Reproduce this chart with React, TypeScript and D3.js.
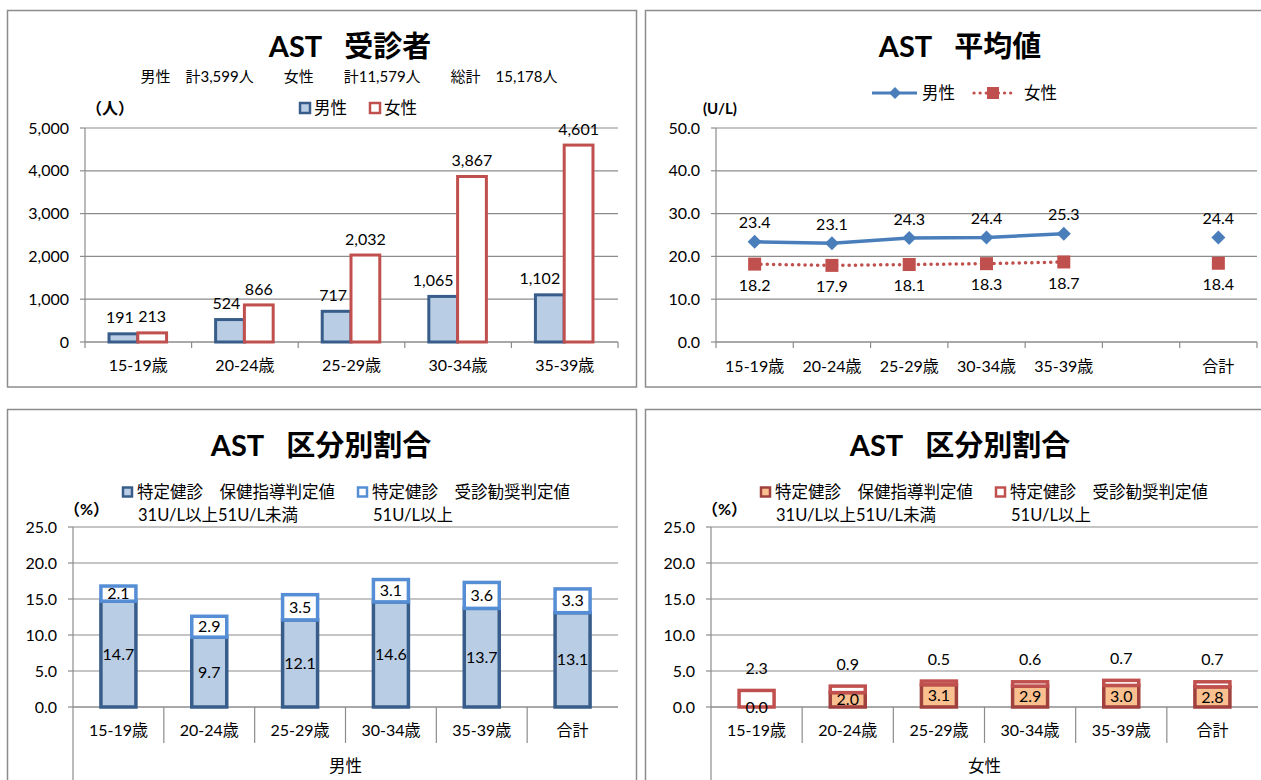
import React from 'react';
import * as d3 from 'd3';

const ageGroups = ['15-19歳', '20-24歳', '25-29歳', '30-34歳', '35-39歳'];
const maleCounts = [191, 524, 717, 1065, 1102];
const femaleCounts = [213, 866, 2032, 3867, 4601];
const countTicks = [0, 1000, 2000, 3000, 4000, 5000];

const avgCategories = ['15-19歳', '20-24歳', '25-29歳', '30-34歳', '35-39歳', '', '合計'];
const maleAvg: (number | null)[] = [23.4, 23.1, 24.3, 24.4, 25.3, null, 24.4];
const femaleAvg: (number | null)[] = [18.2, 17.9, 18.1, 18.3, 18.7, null, 18.4];
const avgTicks = [0, 10, 20, 30, 40, 50];

const ratioCategories = ['15-19歳', '20-24歳', '25-29歳', '30-34歳', '35-39歳', '合計'];
const maleGuidance = [14.7, 9.7, 12.1, 14.6, 13.7, 13.1];
const maleReferral = [2.1, 2.9, 3.5, 3.1, 3.6, 3.3];
const femaleGuidance = [0.0, 2.0, 3.1, 2.9, 3.0, 2.8];
const femaleReferral = [2.3, 0.9, 0.5, 0.6, 0.7, 0.7];
const ratioTicks = [0, 5, 10, 15, 20, 25];

const FONT = "Lato, 'Noto Sans CJK JP', sans-serif";
const GRID = '#8c8c8c';
const FS = 16;

const fmtInt = d3.format(',');
const fmt1 = d3.format('.1f');

function Frame({ x, y, w, h }: { x: number; y: number; w: number; h: number }) {
  return <rect x={x} y={y} width={w} height={h} fill="#fff" stroke="#8c8c8c" strokeWidth={1.5} />;
}

function Title({ cx, y, latin, cjk }: { cx: number; y: number; latin: string; cjk: string }) {
  return (
    <text x={cx} y={y} textAnchor="middle" fontSize={29} fontWeight="bold" fontFamily={FONT} fill="#000">
      <tspan>{latin}</tspan>
      <tspan dx={22}>{cjk}</tspan>
    </text>
  );
}

function YAxis({ scale, ticks, x0, x1, fmt }: { scale: d3.ScaleLinear<number, number>; ticks: number[]; x0: number; x1: number; fmt: (v: number) => string }) {
  return (
    <g>
      {ticks.map((t) => (
        <g key={t}>
          {t > 0 && <line x1={x0} x2={x1} y1={scale(t)} y2={scale(t)} stroke={GRID} strokeWidth={1.2} />}
          <line x1={x0 - 5} x2={x0} y1={scale(t)} y2={scale(t)} stroke={GRID} strokeWidth={1.2} />
          <text x={x0 - 16} y={scale(t)} dy="0.35em" textAnchor="end" fontSize={FS} fontFamily={FONT} fill="#000">
            {fmt(t)}
          </text>
        </g>
      ))}
      <line x1={x0} x2={x0} y1={scale(ticks[ticks.length - 1])} y2={scale(0)} stroke={GRID} strokeWidth={1.2} />
      <line x1={x0} x2={x1} y1={scale(0)} y2={scale(0)} stroke={GRID} strokeWidth={1.5} />
    </g>
  );
}

function CountPanel() {
  const x = d3.scaleBand<string>().domain(ageGroups).range([85, 618]);
  const y = d3.scaleLinear().domain([0, 5000]).range([342, 128]);
  const bw = x.bandwidth();
  const barW = bw * 0.27;
  const series = [
    { values: maleCounts, fill: '#B9CDE5', stroke: '#385D8A', side: -1 },
    { values: femaleCounts, fill: '#ffffff', stroke: '#C0504D', side: 0 },
  ];
  return (
    <g>
      <Frame x={7.5} y={10.5} w={629} h={376.5} />
      <Title cx={350} y={57} latin="AST" cjk="受診者" />
      <text x={349} y={77} dy="0.35em" textAnchor="middle" fontSize={15} fontFamily={FONT}>
        男性　計3,599人　　女性　　計11,579人　　総計　15,178人
      </text>
      <text x={86} y={108} dy="0.35em" fontSize={16} fontWeight="bold" fontFamily={FONT}>（人）</text>
      <rect x={300} y={103} width={10} height={10} fill="#B9CDE5" stroke="#385D8A" strokeWidth={2.5} />
      <text x={314} y={108} dy="0.35em" fontSize={16.5} fontFamily={FONT}>男性</text>
      <rect x={370} y={103} width={10} height={10} fill="#fff" stroke="#C0504D" strokeWidth={2.5} />
      <text x={384} y={108} dy="0.35em" fontSize={16.5} fontFamily={FONT}>女性</text>
      <YAxis scale={y} ticks={countTicks} x0={85} x1={618} fmt={fmtInt} />
      {ageGroups.map((g) => (
        <line key={g} x1={x(g) as number} x2={x(g) as number} y1={342} y2={348} stroke={GRID} strokeWidth={1.2} />
      ))}
      <line x1={618} x2={618} y1={342} y2={348} stroke={GRID} strokeWidth={1.2} />
      {series.map((s, si) =>
        ageGroups.map((g, i) => {
          const c = (x(g) as number) + bw / 2 - 0.5;
          const bx = s.side < 0 ? c - barW : c;
          const v = s.values[i];
          return (
            <g key={`${si}-${g}`}>
              <rect x={bx} y={y(v)} width={barW} height={y(0) - y(v)} fill={s.fill} stroke={s.stroke} strokeWidth={3} />
            </g>
          );
        })
      )}
      {series.map((s, si) =>
        ageGroups.map((g, i) => {
          const c = (x(g) as number) + bw / 2 - 0.5;
          const v = s.values[i];
          const blue = s.side < 0;
          return (
            <text
              key={`l${si}-${g}`}
              x={blue ? c - 4 : c + barW / 2}
              y={y(v) - 16}
              dy="0.35em"
              textAnchor={blue ? 'end' : 'middle'}
              fontSize={FS}
              fontFamily={FONT}
            >
              {fmtInt(v)}
            </text>
          );
        })
      )}
      {ageGroups.map((g) => (
        <text key={g} x={(x(g) as number) + bw / 2} y={365} dy="0.35em" textAnchor="middle" fontSize={FS} fontFamily={FONT}>
          {g}
        </text>
      ))}
    </g>
  );
}

function AvgPanel() {
  const idx = d3.range(avgCategories.length);
  const x = d3.scaleBand<number>().domain(idx).range([716, 1257]);
  const y = d3.scaleLinear().domain([0, 50]).range([342, 128]);
  const bw = x.bandwidth();
  const cx = (i: number) => (x(i) as number) + bw / 2;
  const line = d3
    .line<number | null>()
    .defined((d) => d !== null)
    .x((_, i) => cx(i))
    .y((d) => y(d as number));
  const diamond = (px: number, py: number, r: number) => `M${px},${py - r}L${px + r},${py}L${px},${py + r}L${px - r},${py}Z`;
  return (
    <g>
      <Frame x={645.5} y={10.5} w={630} h={376.5} />
      <Title cx={960} y={57} latin="AST" cjk="平均値" />
      <line x1={872} x2={917} y1={93} y2={93} stroke="#4A7EBB" strokeWidth={3.2} />
      <path d={diamond(895, 93, 6)} fill="#4A7EBB" />
      <text x={922} y={93} dy="0.35em" fontSize={16.5} fontFamily={FONT}>男性</text>
      <line x1={974} x2={1012} y1={93} y2={93} stroke="#C0504D" strokeWidth={3.2} strokeDasharray="0.1 6" strokeLinecap="round" />
      <rect x={987} y={87} width={12} height={12} fill="#C0504D" />
      <text x={1024} y={93} dy="0.35em" fontSize={16.5} fontFamily={FONT}>女性</text>
      <text x={703} y={109} dy="0.35em" fontSize={15} fontWeight="bold" fontFamily={FONT}>(U/L)</text>
      <YAxis scale={y} ticks={avgTicks} x0={716} x1={1257} fmt={fmt1} />
      {idx.map((i) => (
        <line key={i} x1={x(i) as number} x2={x(i) as number} y1={342} y2={348} stroke={GRID} strokeWidth={1.2} />
      ))}
      <line x1={1257} x2={1257} y1={342} y2={348} stroke={GRID} strokeWidth={1.2} />
      <path d={line(maleAvg) || ''} fill="none" stroke="#4A7EBB" strokeWidth={3.5} />
      <path d={line(femaleAvg) || ''} fill="none" stroke="#C0504D" strokeWidth={3.5} strokeDasharray="0.1 6.2" strokeLinecap="round" />
      {maleAvg.map((v, i) =>
        v === null ? null : (
          <g key={`m${i}`}>
            <path d={diamond(cx(i), y(v), 7)} fill="#4A7EBB" />
            <text x={cx(i)} y={y(v) - 19} dy="0.35em" textAnchor="middle" fontSize={FS} fontFamily={FONT}>{fmt1(v)}</text>
          </g>
        )
      )}
      {femaleAvg.map((v, i) =>
        v === null ? null : (
          <g key={`f${i}`}>
            <rect x={cx(i) - 6.5} y={y(v) - 6.5} width={13} height={13} fill="#C0504D" />
            <text x={cx(i)} y={y(v) + 21} dy="0.35em" textAnchor="middle" fontSize={FS} fontFamily={FONT}>{fmt1(v)}</text>
          </g>
        )
      )}
      {avgCategories.map((c, i) => (
        <text key={i} x={cx(i)} y={366} dy="0.35em" textAnchor="middle" fontSize={FS} fontFamily={FONT}>{c}</text>
      ))}
    </g>
  );
}

function RatioPanel({
  left, right, frameX, frameW, titleX, legendX, lower, upper, lowerFill, lowerStroke, upperStroke, group, upperAbove,
}: {
  left: number; right: number; frameX: number; frameW: number; titleX: number; legendX: number;
  lower: number[]; upper: number[]; lowerFill: string; lowerStroke: string; upperStroke: string; group: string; upperAbove: boolean;
}) {
  const x = d3.scaleBand<string>().domain(ratioCategories).range([left, right]);
  const y = d3.scaleLinear().domain([0, 25]).range([707, 527]);
  const bw = x.bandwidth();
  const barW = 35;
  return (
    <g>
      <Frame x={frameX} y={409.5} w={frameW} h={400} />
      <Title cx={titleX} y={456} latin="AST" cjk="区分別割合" />
      <rect x={legendX} y={487.5} width={9} height={9} fill={lowerFill} stroke={lowerStroke} strokeWidth={2.5} />
      <text x={legendX + 14} y={492} dy="0.35em" fontSize={16.5} fontFamily={FONT}>特定健診　保健指導判定値</text>
      <text x={legendX + 15} y={515} dy="0.35em" fontSize={16.5} fontFamily={FONT}>31U/L以上51U/L未満</text>
      <rect x={legendX + 235} y={487.5} width={9} height={9} fill="#fff" stroke={upperStroke} strokeWidth={2.5} />
      <text x={legendX + 249} y={492} dy="0.35em" fontSize={16.5} fontFamily={FONT}>特定健診　受診勧奨判定値</text>
      <text x={legendX + 250} y={515} dy="0.35em" fontSize={16.5} fontFamily={FONT}>51U/L以上</text>
      <text x={left - 9} y={509} dy="0.35em" fontSize={16} fontWeight="bold" fontFamily={FONT}>（%）</text>
      <YAxis scale={y} ticks={ratioTicks} x0={left} x1={right} fmt={fmt1} />
      {ratioCategories.map((c, i) =>
        i === 0 ? null : (
          <line key={c} x1={x(c) as number} x2={x(c) as number} y1={707} y2={743} stroke={GRID} strokeWidth={1.2} />
        )
      )}
      <line x1={left} x2={left} y1={707} y2={780} stroke={GRID} strokeWidth={1.2} />
      {ratioCategories.map((c, i) => {
        const cx = (x(c) as number) + bw / 2;
        const lo = lower[i];
        const up = upper[i];
        const total = lo + up;
        return (
          <g key={c}>
            {lo > 0 && (
              <rect x={cx - barW / 2} y={y(lo)} width={barW} height={y(0) - y(lo)} fill={lowerFill} stroke={lowerStroke} strokeWidth={3.5} />
            )}
            <rect x={cx - barW / 2} y={y(total)} width={barW} height={y(lo) - y(total)} fill="#fff" stroke={upperStroke} strokeWidth={3.5} />
            <text x={cx} y={(y(0) + y(lo)) / 2} dy="0.35em" textAnchor="middle" fontSize={FS} fontFamily={FONT}>{fmt1(lo)}</text>
            <text
              x={cx}
              y={upperAbove ? y(total) - 22 : (y(lo) + y(total)) / 2}
              dy="0.35em"
              textAnchor="middle"
              fontSize={FS}
              fontFamily={FONT}
            >
              {fmt1(up)}
            </text>
            <text x={cx} y={730} dy="0.35em" textAnchor="middle" fontSize={FS} fontFamily={FONT}>{c}</text>
          </g>
        );
      })}
      <text x={(left + right) / 2} y={766} dy="0.35em" textAnchor="middle" fontSize={16.5} fontFamily={FONT}>{group}</text>
    </g>
  );
}

export default function App() {
  return (
    <svg width={1261} height={780} style={{ position: 'absolute', left: 0, top: 0, background: '#fff' }} fontFamily={FONT}>
      <rect x={0} y={0} width={1261} height={780} fill="#fff" />
      <CountPanel />
      <AvgPanel />
      <RatioPanel
        left={73} right={618} frameX={7.5} frameW={629} titleX={321} legendX={123}
        lower={maleGuidance} upper={maleReferral}
        lowerFill="#B9CDE5" lowerStroke="#385D8A" upperStroke="#558ED5" group="男性" upperAbove={false}
      />
      <RatioPanel
        left={711} right={1258} frameX={645.5} frameW={630} titleX={960} legendX={761}
        lower={femaleGuidance} upper={femaleReferral}
        lowerFill="#FAC090" lowerStroke="#A0413E" upperStroke="#C0504D" group="女性" upperAbove={true}
      />
    </svg>
  );
}
